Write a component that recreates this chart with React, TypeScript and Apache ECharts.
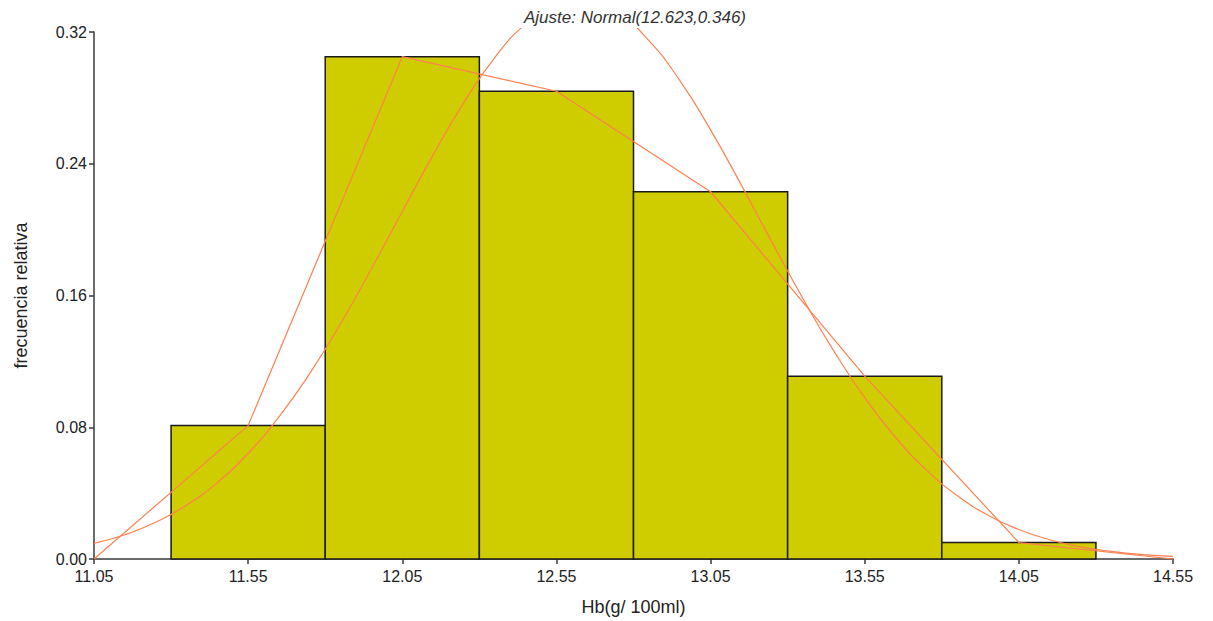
import React, { useEffect, useRef } from "react";
import * as echarts from "echarts";

// Histogram bins (Hb g/100ml) and relative frequencies
const binStarts = [11.3, 11.8, 12.3, 12.8, 13.3, 13.8];
const binEnds = [11.8, 12.3, 12.8, 13.3, 13.8, 14.3];
const relFreq = [0.081, 0.305, 0.284, 0.223, 0.111, 0.01];

// Frequency polygon (bin midpoints, with empty bins at both ends)
const polyX = [11.05, 11.55, 12.05, 12.55, 13.05, 13.55, 14.05, 14.55];
const polyY = [0, 0.081, 0.305, 0.284, 0.223, 0.111, 0.01, 0];

// Fitted normal curve
const curveX = [
  11.05, 11.15, 11.25, 11.35, 11.45, 11.55, 11.65, 11.75, 11.85, 11.95,
  12.05, 12.15, 12.25, 12.35, 12.45, 12.55, 12.65, 12.75, 12.85, 12.95,
  13.05, 13.15, 13.25, 13.35, 13.45, 13.55, 13.65, 13.75, 13.85, 13.95,
  14.05, 14.15, 14.25, 14.35, 14.45, 14.55,
];
const curveY = [
  0.0095, 0.0147, 0.0223, 0.0326, 0.0464, 0.0642, 0.0863, 0.1127, 0.143, 0.1762,
  0.211, 0.2454, 0.2773, 0.3045, 0.3248, 0.3365, 0.3388, 0.3313, 0.3148, 0.2906,
  0.2606, 0.227, 0.1921, 0.158, 0.1262, 0.098, 0.0739, 0.0541, 0.0385, 0.0266,
  0.0179, 0.0117, 0.0074, 0.0046, 0.0027, 0.0016,
];

const xTicks = [11.05, 11.55, 12.05, 12.55, 13.05, 13.55, 14.05, 14.55];

const title = "Ajuste: Normal(12.623,0.346)";
const xName = "Hb(g/ 100ml)";
const yName = "frecuencia relativa";

export default function App() {
  const ref = useRef<HTMLDivElement>(null);

  useEffect(() => {
    if (!ref.current) return;
    const chart = echarts.init(ref.current, undefined, { renderer: "svg" });
    const font = "Liberation Sans, Arial, sans-serif";
    const axisColor = "#3a3a3a";
    const textColor = "#222";
    const lineColor = "#FF8050";

    chart.setOption({
      animation: false,
      backgroundColor: "#fff",
      grid: { left: 94, right: 40, top: 32, bottom: 62 },
      graphic: [
        {
          type: "rect",
          shape: { x: 516, y: 0, width: 240, height: 28 },
          style: { fill: "#fff" },
          z: 100,
        },
        {
          type: "text",
          x: 635,
          y: 17,
          style: {
            text: title,
            font: "italic 17px " + font,
            fill: "#333",
            textAlign: "center",
            textVerticalAlign: "middle",
          },
          z: 101,
        },
      ],
      xAxis: {
        type: "value",
        min: 11.05,
        max: 14.55,
        name: xName,
        nameLocation: "middle",
        nameGap: 39,
        nameTextStyle: { fontFamily: font, fontSize: 18, color: textColor },
        axisLine: { show: true, lineStyle: { color: axisColor, width: 1.5 } },
        axisTick: {
          show: true,
          length: 5,
          customValues: xTicks,
          lineStyle: { color: axisColor, width: 1.5 },
        },
        axisLabel: {
          customValues: xTicks,
          formatter: (v: number) => v.toFixed(2),
          fontFamily: font,
          fontSize: 16,
          color: textColor,
          margin: 9,
        },
        splitLine: { show: false },
      },
      yAxis: {
        type: "value",
        min: 0,
        max: 0.32,
        interval: 0.08,
        name: yName,
        nameLocation: "middle",
        nameGap: 64,
        nameTextStyle: { fontFamily: font, fontSize: 18, color: textColor },
        axisLine: { show: true, lineStyle: { color: axisColor, width: 1.5 } },
        axisTick: { show: true, length: 5, lineStyle: { color: axisColor, width: 1.5 } },
        axisLabel: {
          formatter: (v: number) => v.toFixed(2),
          fontFamily: font,
          fontSize: 16,
          color: textColor,
          margin: 7,
        },
        splitLine: { show: false },
      },
      series: [
        {
          type: "custom",
          data: binStarts.map((s, i) => [s, binEnds[i], relFreq[i]]),
          encode: { x: [0, 1], y: 2 },
          renderItem: (params: any, api: any) => {
            const p0 = api.coord([api.value(0), api.value(2)]);
            const p1 = api.coord([api.value(1), 0]);
            return {
              type: "rect",
              shape: { x: p0[0], y: p0[1], width: p1[0] - p0[0], height: p1[1] - p0[1] },
              style: { fill: "#CFCD00", stroke: "#1a1a1a", lineWidth: 1.5 },
            };
          },
          z: 1,
        },
        {
          type: "line",
          data: polyX.map((x, i) => [x, polyY[i]]),
          showSymbol: false,
          symbol: "none",
          lineStyle: { color: lineColor, width: 1.2 },
          clip: false,
          z: 5,
        },
        {
          type: "line",
          data: curveX.map((x, i) => [x, curveY[i]]),
          smooth: true,
          showSymbol: false,
          symbol: "none",
          lineStyle: { color: lineColor, width: 1.2 },
          clip: false,
          z: 5,
        },
      ],
    });
    return () => chart.dispose();
  }, []);

  return (
    <div
      ref={ref}
      style={{ position: "absolute", left: 0, top: 0, width: 1213, height: 621 }}
    />
  );
}
